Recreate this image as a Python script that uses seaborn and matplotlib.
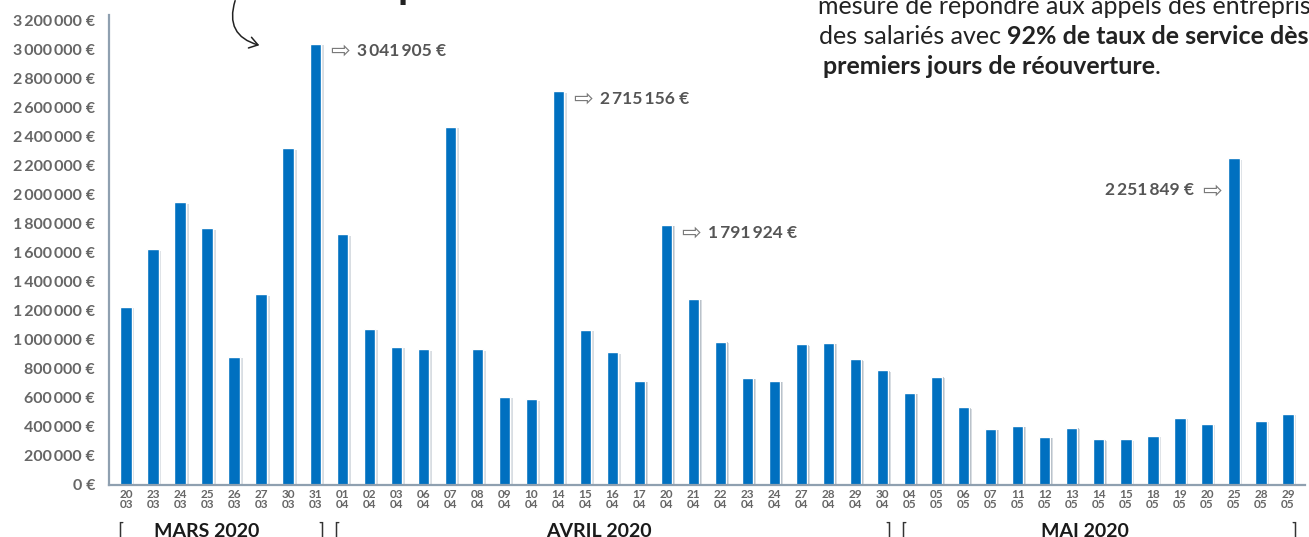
import matplotlib
matplotlib.use("Agg")
import matplotlib.pyplot as plt
import matplotlib.patheffects as pe
from matplotlib.patches import FancyArrowPatch
import matplotlib.transforms as mtransforms
import seaborn as sns

# Data
days = ["20", "23", "24", "25", "26", "27", "30", "31",
        "01", "02", "03", "06", "07", "08", "09", "10", "14", "15", "16", "17", "20",
        "21", "22", "23", "24", "27", "28", "29", "30",
        "04", "05", "06", "07", "11", "12", "13", "14", "15", "18", "19", "20",
        "25", "28", "29"]
months = ["03"] * 8 + ["04"] * 21 + ["05"] * 15
amounts = [1230000, 1625000, 1950000, 1770000, 885000, 1315000, 2322000, 3041905,
           1729000, 1078000, 954000, 936000, 2469000, 936000, 609000, 591000, 2715156,
           1069000, 915000, 717000, 1791924, 1283000, 989000, 738000, 717000, 970000,
           979000, 867000, 791000,
           634000, 747000, 536000, 386000, 407000, 331000, 395000, 315000, 315000,
           338000, 464000, 421000, 2251849, 441000, 490000]
month_names = ["MARS 2020", "AVRIL 2020", "MAI 2020"]
month_codes = ["03", "04", "05"]
highlights = {7: "3\u2009041\u2009905\u00a0€", 16: "2\u2009715\u2009156\u00a0€",
              20: "1\u2009791\u2009924\u00a0€", 41: "2\u2009251\u2009849\u00a0€"}

labels = [f"{d}\n{m}" for d, m in zip(days, months)]

sns.set_theme(style="white")
plt.rcParams["font.family"] = ["Lato", "DejaVu Sans"]

W, H = 1309, 537
fig = plt.figure(figsize=(W / 100, H / 100), dpi=100)
ax = fig.add_axes([109 / W, (H - 485) / H, 1196 / W, (485 - 15) / H])

blue = "#0070C0"
sns.barplot(x=labels, y=amounts, color=blue, width=0.42, saturation=1, ax=ax)
for bar in ax.patches:
    bar.set_path_effects([pe.SimplePatchShadow(offset=(2, -1), shadow_rgbFace="#a9b4c0", alpha=0.45),
                          pe.SimplePatchShadow(offset=(1, -0.5), shadow_rgbFace="#7d8c9c", alpha=0.5),
                          pe.Normal()])

ax.set_xlim(-0.63, 43.63)
ax.set_ylim(0, 3.24e6)
yt = list(range(0, 3200001, 200000))
ax.set_yticks(yt)
ax.set_yticklabels([(f"{v:,}".replace(",", "\u2009") + "\u00a0€") for v in yt])
for s in ["top", "right"]:
    ax.spines[s].set_visible(False)
for s in ["left", "bottom"]:
    ax.spines[s].set_color("#8fa0b0")
    ax.spines[s].set_linewidth(1.6)
ax.tick_params(axis="y", length=0, pad=10, labelsize=11.5, labelcolor="#666666")
ax.tick_params(axis="x", length=0, pad=3, labelsize=8.5, labelcolor="#666666")
for t in ax.get_yticklabels():
    t.set_fontweight("bold")
for t in ax.get_xticklabels():
    t.set_fontweight("bold")
    t.set_linespacing(0.9)
ax.set_xlabel("")
ax.set_ylabel("")

# month brackets under the axis
trans = mtransforms.blended_transform_factory(ax.transData, ax.transAxes)
for name, code in zip(month_names, month_codes):
    idx = [i for i, m in enumerate(months) if m == code]
    first, last = idx[0], idx[-1]
    ax.text(first - 0.22, -0.097, "[", transform=trans, ha="center", va="center",
            fontsize=14, color="#333333", clip_on=False)
    ax.text(last + 0.22, -0.097, "]", transform=trans, ha="center", va="center",
            fontsize=14, color="#333333", clip_on=False)
    ax.text((first + last) / 2 - 0.5, -0.098, name, transform=trans, ha="center", va="center",
            fontsize=14, fontweight="bold", color="#1a1a1a", clip_on=False)

# value callouts
for i, txt in highlights.items():
    v = amounts[i]
    if i == 41:
        ax.annotate("⇨", (i, v), xytext=(-12, -32), textcoords="offset pixels",
                    ha="right", va="center", fontsize=17, color="#7a7a7a",
                    family="DejaVu Sans")
        ax.annotate(txt, (i, v), xytext=(-40, -32), textcoords="offset pixels",
                    ha="right", va="center", fontsize=12.5, fontweight="bold", color="#555555")
    else:
        dy = -8 if i != 7 else -7
        ax.annotate("⇨", (i, v), xytext=(15, dy), textcoords="offset pixels",
                    ha="left", va="center", fontsize=17, color="#7a7a7a",
                    family="DejaVu Sans")
        ax.annotate(txt, (i, v), xytext=(42, dy), textcoords="offset pixels",
                    ha="left", va="center", fontsize=12.5, fontweight="bold", color="#555555")

# cropped text block at the top right
renderer = fig.canvas.get_renderer()


def chain(parts, x, y, size=18):
    for s, w in parts:
        t = fig.text(x / W, 1 - y / H, s, fontsize=size, fontweight=w, color="#222222",
                     va="center", ha="left")
        bb = t.get_window_extent(renderer)
        x += bb.width


chain([("mesure de répondre aux appels des entrepris", "normal")], 818, 6)
chain([("des salariés avec ", "normal"), ("92% de taux de service dès", "bold")], 819, 37)
chain([("premiers jours de réouverture", "bold"), (".", "normal")], 823, 67)

# cropped title descender and hand drawn arrow
fig.text(397 / W, 1 + 2 / H, "p", fontsize=30, fontweight="bold", color="#222222",
         ha="left", va="baseline")
arrow = FancyArrowPatch((236 / W, 1 + 2 / H), (262 / W, 1 - 46 / H), transform=fig.transFigure,
                        connectionstyle="arc3,rad=0.55", arrowstyle="->,head_length=6,head_width=4",
                        color="#222222", lw=1.1)
fig.patches.append(arrow)

fig.savefig("out.png", dpi=100)
